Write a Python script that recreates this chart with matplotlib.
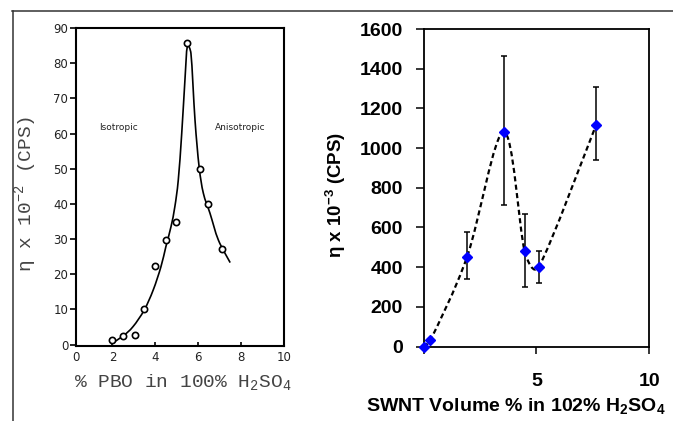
import numpy as np
import matplotlib
matplotlib.use("Agg")
import matplotlib.pyplot as plt
from matplotlib.path import Path
from matplotlib.patches import PathPatch
from matplotlib.lines import Line2D

plt.rcParams['mathtext.fontset'] = 'custom'
plt.rcParams['mathtext.rm'] = 'Liberation Sans:bold'
plt.rcParams['mathtext.bf'] = 'Liberation Sans:bold'
plt.rcParams['mathtext.tt'] = 'Liberation Mono'

# painel esquerdo: PBO em H2SO4 100%
pbo_x = [1.98, 2.49, 3.04, 3.48, 3.98, 4.52, 4.95, 5.49, 6.07, 6.47, 7.10]
pbo_y = [1.3, 2.4, 2.6, 10.0, 22.3, 29.7, 34.7, 85.6, 49.8, 40.0, 27.1]

# curva ajustada
curva_x = [1.95, 2.49, 2.96, 3.48, 3.90, 4.26, 4.49, 4.73, 4.91, 5.07, 5.23, 5.38, 5.49,
           5.66, 5.85, 6.04, 6.24, 6.55, 6.94, 7.49]
curva_y = [0.3, 2.4, 5.1, 9.8, 15.5, 22.1, 27.8, 33.5, 39.2, 46.8, 60.0, 75.2, 84.7,
           82.8, 63.8, 50.6, 43.0, 37.3, 29.7, 23.3]

# painel direito: SWNT em H2SO4 102%
swnt_x = [0.0, 0.31, 1.93, 3.55, 4.48, 5.11, 7.65]
swnt_y = [0, 33, 452, 1082, 481, 402, 1118]
erro_baixo = [0, 0, 113, 369, 183, 80, 180]
erro_cima = [0, 0, 123, 381, 185, 81, 191]


def caminho_suave(ax, xs, ys):
    # bezier estilo Excel, calculado em pixels
    pts = ax.transData.transform(np.column_stack([xs, ys]))
    n = len(pts)
    verts = [pts[0]]
    codes = [Path.MOVETO]
    for i in range(n - 1):
        p0 = pts[max(i - 1, 0)]
        p1 = pts[i]
        p2 = pts[i + 1]
        p3 = pts[min(i + 2, n - 1)]
        d12 = np.hypot(*(p2 - p1))
        t1 = p2 - p0
        t2 = p3 - p1
        l1 = np.hypot(*t1) / 6
        l2 = np.hypot(*t2) / 6
        if l1 > d12 / 2:
            t1 = t1 * (d12 / 2) / (l1 * 6)
        else:
            t1 = t1 / 6
        if l2 > d12 / 2:
            t2 = t2 * (d12 / 2) / (l2 * 6)
        else:
            t2 = t2 / 6
        verts += [p1 + t1, p2 - t2, p2]
        codes += [Path.CURVE4] * 3
    verts = ax.transData.inverted().transform(np.array(verts))
    return Path(verts, codes)


fig = plt.figure(figsize=(6.73, 4.21), dpi=100)
W, H = 673, 421

# moldura da figura
fig.add_artist(Line2D([12 / W, 1], [1 - 11 / H, 1 - 11 / H], color='#333333', lw=1.1))
fig.add_artist(Line2D([12.5 / W, 12.5 / W], [0, 1 - 11 / H], color='#333333', lw=1.1))

# ---------- esquerda ----------
ax1 = fig.add_axes([76 / W, 1 - 345.6 / H, 208 / W, 317.6 / H])
ax1.set_xlim(0.3, 10.0)
ax1.set_ylim(-0.3, 90)
ax1.set_xticks([0.3, 2, 4, 6, 8, 10], ['0', '2', '4', '6', '8', '10'])
ax1.set_yticks(range(0, 91, 10))
for s in ax1.spines.values():
    s.set_linewidth(1.5)
ax1.tick_params(axis='x', direction='in', length=3, width=1.2, pad=4,
                labelsize=8.5, labelcolor='#222222')
ax1.tick_params(axis='y', direction='out', length=4, width=1.2, pad=1.5,
                labelsize=8.5, labelcolor='#222222')

p = caminho_suave(ax1, curva_x, curva_y)
ax1.add_patch(PathPatch(p, fill=False, lw=1.2, color='black'))
ax1.plot(pbo_x, pbo_y, 'o', ms=4.5, mfc='white', mec='black', mew=1.2)

ax1.text(2.3, 61.6, 'Isotropic', fontsize=6.5, ha='center', va='center', color='#222222')
ax1.text(7.98, 61.6, 'Anisotropic', fontsize=6.5, ha='center', va='center', color='#222222')

mono = ['Liberation Mono', 'DejaVu Sans Mono']
ax1.set_ylabel(r'η x 10$^{\mathtt{-2}}$ (CPS)', family=mono, fontsize=14, color='#444444')
ax1.yaxis.set_label_coords(-0.173, 0.477)
ax1.set_xlabel(r'% PBO in 100% H$_{\mathtt{2}}$SO$_{\mathtt{4}}$', family=mono,
               fontsize=14, color='#444444')
ax1.xaxis.set_label_coords(0.514, -0.086)

# ---------- direita ----------
ax2 = fig.add_axes([423.5 / W, 1 - 346.5 / H, 225.8 / W, 317.5 / H])
ax2.set_xlim(0, 10)
ax2.set_ylim(0, 1600)
ax2.set_xticks([0, 5, 10], ['', '5', '10'])
ax2.set_yticks(range(0, 1601, 200))
for s in ax2.spines.values():
    s.set_linewidth(1.3)
ax2.tick_params(axis='x', direction='out', length=5, width=1.1, pad=14, labelsize=14)
ax2.tick_params(axis='y', direction='out', length=6, width=1.1, pad=9, labelsize=14)
for lab in ax2.get_xticklabels() + ax2.get_yticklabels():
    lab.set_family('Liberation Sans')
    lab.set_fontweight('bold')

p2 = caminho_suave(ax2, swnt_x, swnt_y)
ax2.add_patch(PathPatch(p2, fill=False, lw=1.6, color='black', ls=(0, (2.3, 1.5))))
ax2.errorbar(swnt_x[2:], swnt_y[2:], yerr=[erro_baixo[2:], erro_cima[2:]], fmt='none',
             ecolor='black', elinewidth=1.1, capsize=2.5, capthick=1.1, zorder=3)
ax2.plot(swnt_x, swnt_y, 'D', ms=5.6, color='#0000ff', mec='#0000ff', zorder=4, clip_on=False)

ax2.set_ylabel(r'η x 10$^{-3}$ (CPS)', family='Liberation Sans', fontweight='bold', fontsize=13.5)
ax2.yaxis.set_label_coords(-0.334, 0.477)
ax2.set_xlabel(r'SWNT Volume % in 102% H$_{2}$SO$_{4}$', family='Liberation Sans',
               fontweight='bold', fontsize=14)
ax2.xaxis.set_label_coords(0.41, -0.158)

fig.savefig('out.png', dpi=100)
